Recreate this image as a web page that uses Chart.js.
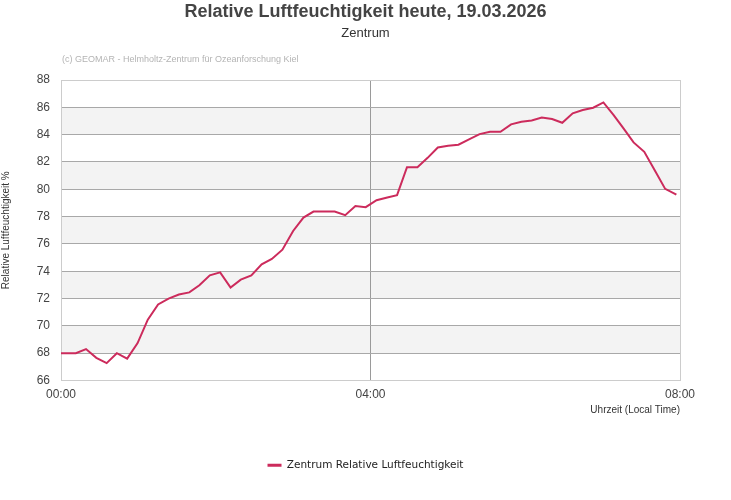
<!DOCTYPE html>
<html>
<head>
<meta charset="utf-8">
<script src="https://cdn.jsdelivr.net/npm/chart.js@4/dist/chart.umd.min.js"></script>
<style>
    body { margin: 0; background: #fff; }
    #wrap { width: 731px; height: 500px; position: relative; }
</style>
</head>
<body>
<div id="wrap"><canvas id="chartFeuchte"></canvas></div>
<script>
// Messzeitpunkte (Minuten nach Mitternacht) und Werte
const minuten = [0, 3.5, 11.5, 19.4, 27.4, 35.4, 43.3, 51.3, 59.4, 67.3, 75.3, 83.4, 91.4, 99.5, 107.3, 115.4,
    123.4, 131.5, 139.4, 147.6, 155.6, 163.5, 171.7, 180, 188, 195.8, 204, 212.2, 220.4, 228.3, 236.3, 244.7,
    253, 260.6, 268.3, 276.4, 284.3, 292.2, 300.2, 308.2, 316.4, 324.6, 332.7, 340.8, 349, 357, 365,
    372.8, 380.8, 388.7, 396.8, 404.6, 412.7, 420.6, 428.4, 436.2, 444, 452.3, 460.4, 468.5, 477.2];
const feuchte = [68.0, 68.0, 68.0, 68.3, 67.66, 67.27, 68.0, 67.6, 68.74, 70.45, 71.57, 72.0, 72.3, 72.45, 72.97, 73.7,
    73.92, 72.8, 73.38, 73.7, 74.5, 74.9, 75.58, 76.95, 77.93, 78.37, 78.37, 78.37, 78.1, 78.78, 78.69, 79.2,
    79.4, 79.57, 81.62, 81.62, 82.3, 83.06, 83.18, 83.26, 83.65, 84.04, 84.21, 84.21, 84.75, 84.95, 85.04,
    85.26, 85.14, 84.87, 85.56, 85.8, 85.97, 86.36, 85.45, 84.46, 83.43, 82.74, 81.4, 80.03, 79.6];
const xTicks = [0, 240, 480];
const xTickLabels = ['00:00', '04:00', '08:00'];

const FONT = "'Liberation Sans', Arial, sans-serif";
const LINIE = '#cc2b5c';

// Hintergrundstreifen + Copyright-Text
const streifenPlugin = {
    id: 'streifen',
    beforeDraw(chart) {
        const { ctx, chartArea, scales } = chart;
        const y = scales.y;
        ctx.save();
        ctx.fillStyle = '#f3f3f3';
        y.ticks.forEach((t, i) => {
            if (i === y.ticks.length - 1) return;
            const unten = t.value;
            if ((unten - 68) % 4 !== 0) return;
            const y1 = y.getPixelForValue(unten);
            const y2 = y.getPixelForValue(y.ticks[i + 1].value);
            ctx.fillRect(chartArea.left, y2, chartArea.right - chartArea.left, y1 - y2);
        });
        ctx.fillStyle = '#b4b4b4';
        ctx.font = '9px ' + FONT;
        ctx.textBaseline = 'middle';
        ctx.textAlign = 'left';
        ctx.fillText('(c) GEOMAR - Helmholtz-Zentrum für Ozeanforschung Kiel', chartArea.left + 1, chartArea.top - 20);
        ctx.restore();
    }
};

new Chart(document.getElementById('chartFeuchte'), {
    type: 'line',
    data: {
        datasets: [{
            label: 'Zentrum Relative Luftfeuchtigkeit',
            data: minuten.map((m, i) => ({ x: m, y: feuchte[i] })),
            borderColor: LINIE,
            backgroundColor: LINIE,
            borderWidth: 2,
            pointRadius: 0,
            tension: 0
        }]
    },
    options: {
        responsive: true,
        maintainAspectRatio: false,
        animation: false,
        layout: { padding: { left: 0, right: 0, top: 0, bottom: 19.6 } },
        scales: {
            x: {
                type: 'linear',
                min: 0,
                max: 480,
                afterBuildTicks(scale) { scale.ticks = xTicks.map(v => ({ value: v })); },
                ticks: {
                    padding: 7,
                    color: '#444',
                    font: { family: FONT, size: 12 },
                    maxRotation: 0,
                    callback: (v) => xTickLabels[xTicks.indexOf(v)]
                },
                grid: {
                    drawTicks: false,
                    color: ctx => ctx.tick && ctx.tick.value === 240 ? '#9a9a9a' : '#cccccc'
                },
                border: { color: '#cccccc' },
                title: {
                    display: true,
                    text: 'Uhrzeit (Local Time)',
                    align: 'end',
                    color: '#333',
                    font: { family: FONT, size: 10 },
                    padding: { top: -5, bottom: 34 }
                }
            },
            y: {
                min: 66,
                max: 88,
                afterFit(scale) { scale.width = 61; },
                ticks: {
                    stepSize: 2,
                    padding: 11,
                    color: '#444',
                    font: { family: FONT, size: 12 }
                },
                grid: {
                    drawTicks: false,
                    color: ctx => (ctx.tick && (ctx.tick.value === 88 || ctx.tick.value === 66)) ? '#cccccc' : '#a8a8a8'
                },
                border: { color: '#cccccc' },
                title: {
                    display: true,
                    text: 'Relative Luftfeuchtigkeit %',
                    color: '#333',
                    font: { family: FONT, size: 10 },
                    padding: { top: 0, bottom: 0 }
                }
            },
            // leere rechte Achse als Abstand, damit Titel/Legende mittig bleiben
            rechts: {
                position: 'right',
                display: true,
                afterFit(scale) { scale.width = 51; },
                ticks: { display: false },
                grid: { display: false, drawTicks: false },
                border: { display: false }
            }
        },
        plugins: {
            title: {
                display: true,
                text: 'Relative Luftfeuchtigkeit heute, 19.03.2026',
                color: '#444',
                font: { family: FONT, size: 18, weight: 'bold' },
                padding: { top: 1, bottom: 2 }
            },
            subtitle: {
                display: true,
                text: 'Zentrum',
                color: '#333',
                font: { family: FONT, size: 13, weight: 'normal' },
                padding: { top: 1, bottom: 38.8 }
            },
            legend: {
                position: 'bottom',
                labels: {
                    padding: 10,
                    color: '#222',
                    font: { family: "'DejaVu Sans', Verdana, sans-serif", size: 10.5 },
                    usePointStyle: true,
                    pointStyleWidth: 14,
                    generateLabels(chart) {
                        const items = Chart.defaults.plugins.legend.labels.generateLabels(chart);
                        items.forEach(it => { it.pointStyle = 'line'; it.lineWidth = 3; it.strokeStyle = LINIE; });
                        return items;
                    }
                }
            },
            tooltip: { enabled: false }
        }
    },
    plugins: [streifenPlugin]
});
</script>
</body>
</html>
